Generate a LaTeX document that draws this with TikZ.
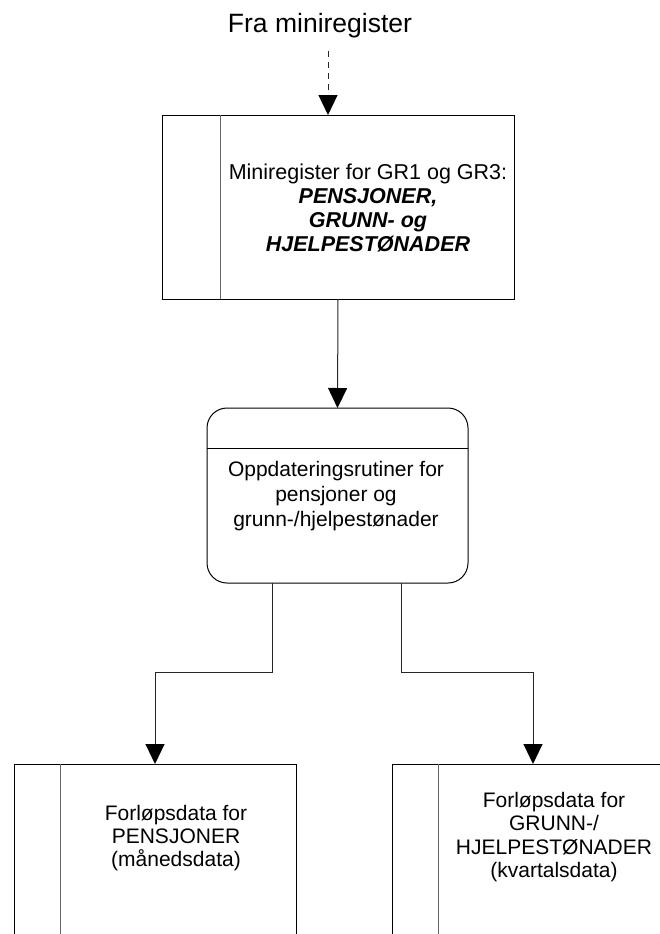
\documentclass[tikz,border=0pt]{standalone}
\usepackage{fontspec}
\setmainfont{Liberation Sans}
\usetikzlibrary{arrows.meta}
\begin{document}
\begin{tikzpicture}[x=1pt,y=-1pt,
  boxline/.style={draw=black,line width=1pt,inner sep=0pt,outer sep=0pt},
  divline/.style={draw=black!60,line width=1pt},
  arr/.style={draw=black!85,line width=1pt,-{Triangle[width=19pt,length=20pt,color=black,fill=black]}},
  dasharr/.style={arr,dash pattern=on 6pt off 5pt},
  lbl/.style={align=center,inner sep=0pt,font=\fontsize{21}{24}\selectfont}
]
\useasboundingbox (0,0) rectangle (660,934);
\clip (0,0) rectangle (660,934);
% heading
\node[anchor=base,inner sep=0pt,font=\fontsize{26.5}{30}\selectfont] (fra) at (320,33) {Fra miniregister};
\coordinate (src) at (328,51);
% top register box
\node[boxline,minimum width=352pt,minimum height=184pt] (mr) at (338,207) {};
\draw[divline] ([xshift=58pt]mr.north west) -- ([xshift=58pt]mr.south west);
\node[lbl,font=\fontsize{21.5}{24}\selectfont] (mrtext) at (368,208)
  {Miniregister for GR1 og GR3:\\ \textbf{\textit{PENSJONER,}}\\ \textbf{\textit{GRUNN- og}}\\ \textbf{\textit{HJELPESTØNADER}}};
% update routine box
\node[boxline,rounded corners=20pt,minimum width=261pt,minimum height=175pt] (upd) at (337.5,495.5) {};
\draw[boxline] ([yshift=-40pt]upd.north west) -- ([yshift=-40pt]upd.north east);
\node[lbl,font=\fontsize{21}{25}\selectfont] (updtext) at (336,496.5)
  {Oppdateringsrutiner for\\ pensjoner og\\ grunn-/hjelpestønader};
% bottom boxes
\node[boxline,minimum width=282pt,minimum height=200pt] (lb) at (155,864) {};
\draw[divline] ([xshift=46pt]lb.north west) -- ([xshift=46pt]lb.south west);
\node[lbl,font=\fontsize{21}{23}\selectfont] (lbtext) at (176,838)
  {Forløpsdata for\\ PENSJONER\\ (månedsdata)};
\node[boxline,minimum width=282pt,minimum height=200pt] (rb) at (533,864) {};
\draw[divline] ([xshift=46pt]rb.north west) -- ([xshift=46pt]rb.south west);
\node[lbl,font=\fontsize{21}{23.5}\selectfont] (rbtext) at (554,837)
  {Forløpsdata for\\ GRUNN-/\\ HJELPESTØNADER\\ (kvartalsdata)};
% connectors
\draw[dasharr] (src) -- (src |- mr.north);
\draw[arr] (mr.south) -- (upd.north);
\draw[arr] ([xshift=-65.5pt]upd.south) -- ++(0,89) -| (lb.north);
\draw[arr] ([xshift=63.5pt]upd.south) -- ++(0,89) -| (rb.north);
\end{tikzpicture}
\end{document}
